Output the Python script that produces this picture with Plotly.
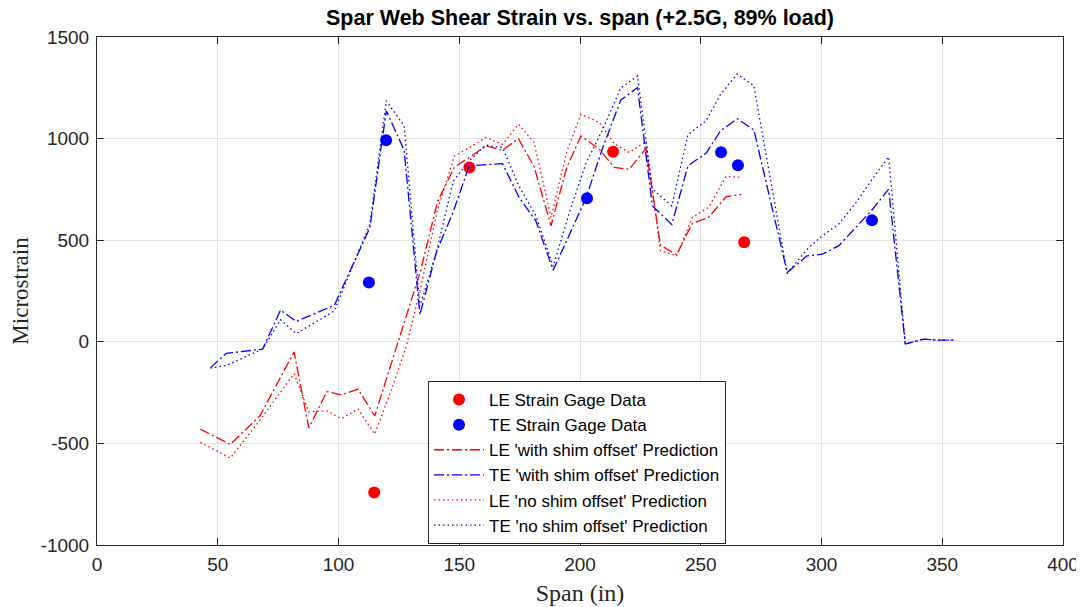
import plotly.graph_objects as go

# ---------------- data ----------------
le_data_x = [154.2, 213.7, 268.0, 114.8]
le_data_y = [858, 935, 490, -742]

te_data_x = [119.7, 112.6, 202.9, 258.4, 265.4, 320.9]
te_data_y = [992, 292, 707, 933, 869, 598]

le_x = [42.8, 55.2, 67.5, 81.6, 87.7, 95.2, 101.2, 108.1, 115.0, 121.5, 128.0, 134.0,
        141.0, 148.0, 154.5, 161.0, 168.0, 174.5, 181.0, 188.0, 194.5, 200.4, 208.0,
        214.2, 220.4, 227.3, 233.3, 240.0, 246.5, 253.2, 260.5, 266.8]
le_shim = [-430, -505, -364, -50, -424, -245, -261, -233, -365, -120, 130, 350,
           690, 860, 910, 964, 943, 1000, 862, 571, 858, 1013, 948,
           858, 849, 951, 476, 428, 583, 612, 714, 725]
le_noshim = [-495, -572, -385, -157, -345, -340, -378, -331, -454, -250, -25, 265,
             650, 915, 958, 1005, 972, 1071, 980, 612, 935, 1120, 1079,
             975, 932, 985, 448, 423, 612, 661, 814, 810]

te_x = [47.0, 53.5, 68.6, 76.0, 82.5, 98.3, 113.0, 119.8, 127.2, 133.7, 140.5, 147.5,
        154.1, 161.0, 167.9, 174.8, 181.7, 188.9, 195.7, 202.5, 209.4, 216.9, 223.8,
        230.0, 238.0, 244.7, 252.2, 258.2, 265.1, 272.0, 285.8, 294.0, 300.3, 307.1,
        314.0, 321.0, 327.8, 334.7, 342.3, 348.5, 355.3]
te_shim = [-127, -57, -36, 156, 100, 180, 562, 1137, 942, 133, 440, 640,
           866, 870, 877, 710, 595, 352, 530, 708, 955, 1190, 1251,
           669, 577, 866, 928, 1038, 1098, 1043, 341, 423, 431, 472,
           560, 650, 751, -11, 13, 8, 8]
te_noshim = [-129, -117, -35, 109, 40, 152, 580, 1186, 1062, 175, 440, 790,
             890, 968, 956, 765, 620, 372, 640, 880, 1045, 1250, 1308,
             751, 669, 1020, 1087, 1218, 1318, 1260, 336, 455, 521, 579,
             680, 800, 910, -11, 13, 8, 8]

x_ticks = [0, 50, 100, 150, 200, 250, 300, 350, 400]
y_ticks = [-1000, -500, 0, 500, 1000, 1500]

RED = "#ff0000"
BLUE = "#0000ff"
AX = "#262626"
DASHDOT = "10px,3px,2px,3px"
DOT = "1.5px,3px"

fig = go.Figure()
fig.add_trace(go.Scatter(x=le_data_x, y=le_data_y, mode="markers", name="LE Strain Gage Data",
                         marker=dict(color=RED, size=12, line=dict(width=0))))
fig.add_trace(go.Scatter(x=te_data_x, y=te_data_y, mode="markers", name="TE Strain Gage Data",
                         marker=dict(color=BLUE, size=12, line=dict(width=0))))
fig.add_trace(go.Scatter(x=le_x, y=le_shim, mode="lines", name="LE 'with shim offset' Prediction",
                         line=dict(color=RED, width=1.3, dash=DASHDOT)))
fig.add_trace(go.Scatter(x=te_x, y=te_shim, mode="lines", name="TE 'with shim offset' Prediction",
                         line=dict(color=BLUE, width=1.3, dash=DASHDOT)))
fig.add_trace(go.Scatter(x=le_x, y=le_noshim, mode="lines", name="LE 'no shim offset' Prediction",
                         line=dict(color=RED, width=1.3, dash=DOT)))
fig.add_trace(go.Scatter(x=te_x, y=te_noshim, mode="lines", name="TE 'no shim offset' Prediction",
                         line=dict(color=BLUE, width=1.3, dash=DOT)))

axis_common = dict(
    showline=True, linecolor=AX, linewidth=1, mirror="allticks",
    ticks="inside", ticklen=7, tickcolor=AX, tickwidth=1,
    showgrid=True, gridcolor="#e3e3e3", gridwidth=1,
    zeroline=False, automargin=False,
    tickfont=dict(family="Liberation Sans, Arial, sans-serif", size=19, color=AX),
)

# the page body has an 8px margin; the figure is sized to sit inside the window
W, H = 1076, 599
fig.update_layout(
    width=W, height=H,
    margin=dict(l=89, r=21, t=29, b=62),
    paper_bgcolor="white", plot_bgcolor="white",
    title=dict(text="<b>Spar Web Shear Strain vs. span (+2.5G, 89% load)</b>",
               x=0.5, xref="paper", xanchor="center",
               y=1 - 2 / H, yref="container", yanchor="top", pad=dict(t=0, b=0, l=0, r=0),
               font=dict(family="Liberation Sans, Arial, sans-serif", size=21.5, color="black")),
    xaxis=dict(range=[0, 400], tickvals=x_ticks, ticktext=[str(v) for v in x_ticks],
               ticklabelstandoff=2,
               title=dict(text="Span (in)", standoff=10,
                          font=dict(family="Liberation Serif, DejaVu Serif, serif", size=24, color=AX)),
               **axis_common),
    yaxis=dict(range=[-1000, 1500], tickvals=y_ticks, ticktext=[str(v) for v in y_ticks],
               ticklabelstandoff=3,
               title=dict(text="Microstrain", standoff=10,
                          font=dict(family="Liberation Serif, DejaVu Serif, serif", size=23, color=AX)),
               **axis_common),
    legend=dict(x=(428 - 97) / 966, y=(545 - 381) / 508, xanchor="left", yanchor="top",
                bgcolor="white", bordercolor=AX, borderwidth=1,
                font=dict(family="Liberation Sans, Arial, sans-serif", size=17, color="black"),
                itemwidth=50, tracegroupgap=0),
    showlegend=True,
)

fig.write_html("out.html")
